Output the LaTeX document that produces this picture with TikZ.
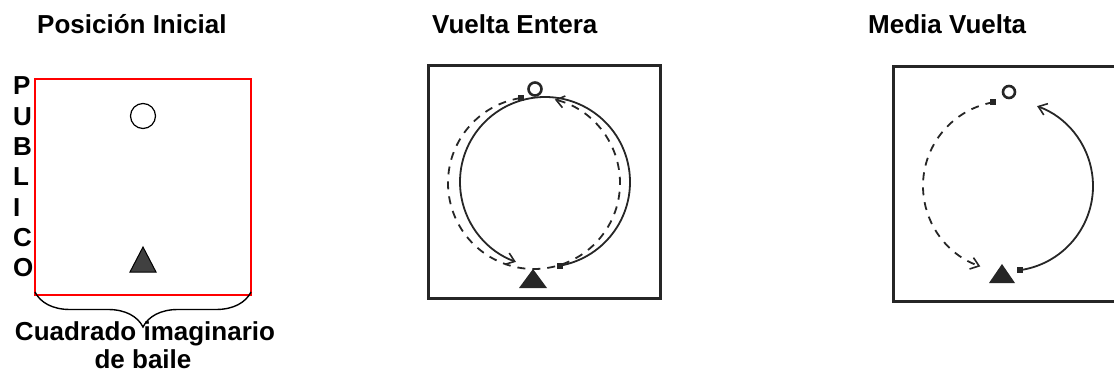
\documentclass[tikz,border=0pt]{standalone}
\usepackage{fontspec}
\setmainfont{Liberation Sans}
\usetikzlibrary{decorations.pathreplacing,arrows.meta,calc}
\begin{document}
\begin{tikzpicture}[x=1pt,y=-1pt,
  lbl/.style={font=\fontsize{26}{30}\selectfont\bfseries, inner sep=0pt},
  boxline/.style={draw=black!85, line width=3pt},
  trail/.style={line width=1.8pt, draw=black!85},
  dashtrail/.style={trail, dash pattern=on 8pt off 7pt},
  tip/.style={-{Straight Barb[length=8pt,width=12pt,line width=1.6pt]}},
  dotmark/.style={fill=black!85, minimum size=6pt, inner sep=0pt, rectangle},
  dancerO/.style={circle, draw=black!85, line width=2.6pt, minimum size=13pt, inner sep=0pt},
]
\useasboundingbox (0,0) rectangle (1114,374);

% titles
\node[lbl, anchor=base west] (t1) at (37,34) {Posición Inicial};
\node[lbl, anchor=base west] (t2) at (432,34) {Vuelta Entera};
\node[lbl, anchor=base west] (t3) at (868,34) {Media Vuelta};

% left panel
\draw[red, line width=1.6pt] (35,79) rectangle (251,295);
\node[circle, draw, line width=1.2pt, minimum size=25pt, inner sep=0pt] (circ) at (143,116) {};
\draw[fill=black!75, line width=1pt] (143,247) -- (156,272) -- (130,272) -- cycle;
\foreach \l [count=\i] in {P,U,B,L,I,C,O}
  \node[lbl, anchor=base west] (pub\i) at (13,{95+(\i-1)*30.33}) {\l};
\draw[decorate, decoration={brace, amplitude=35pt}, line width=1.4pt] (251,292) -- (35,292);
\node[lbl, anchor=base] (cap1) at (145,340) {Cuadrado imaginario};
\node[lbl, anchor=base] (cap2) at (143,368) {de baile};

% middle panel
\draw[boxline] (428,66) rectangle (660,298);
\coordinate (mc) at (545,182);
\coordinate (mdc) at (534,183);
\fill[black!85] (533,269) -- (547,288) -- (519,288) -- cycle;
\node[dancerO] (mo) at (535,89) {};
\node[dotmark] (md1) at ($(mc)+(80:85)$) {};
\node[dotmark] (md2) at ($(mdc)+(-99:86)$) {};
\draw[trail, tip] (md1.center) arc[start angle=80, end angle=-250, radius=85];
\draw[dashtrail, tip] (md2.center) arc[start angle=-99, end angle=-436, radius=86];

% right panel
\begin{scope}
  \clip (0,0) rectangle (1114,374);
  \draw[boxline] (893,67) rectangle (1127,301);
\end{scope}
\coordinate (rc) at (1008,186);
\fill[black!85] (1002,264) -- (1015,283) -- (989,283) -- cycle;
\node[dancerO, minimum size=12pt] (ro) at (1009,92) {};
\node[dotmark] (rd1) at ($(rc)+(82:85)$) {};
\node[dotmark] (rd2) at ($(rc)+(-100:85)$) {};
\draw[trail, tip] (rd1.center) arc[start angle=82, end angle=-70, radius=85];
\draw[dashtrail, tip] (rd2.center) arc[start angle=-100, end angle=-251, radius=85];
\end{tikzpicture}
\end{document}
